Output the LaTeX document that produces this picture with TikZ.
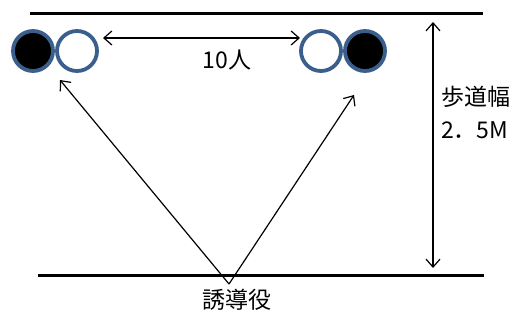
\documentclass[tikz,border=0pt]{standalone}
\usepackage{fontspec}
\setmainfont{Noto Sans CJK JP}
\usetikzlibrary{arrows.meta}
\definecolor{ringblue}{HTML}{3B5F8C}
\begin{document}
\begin{tikzpicture}[x=1pt,y=-1pt,
  person/.style={circle,draw=ringblue,line width=3.8pt,minimum size=40pt,inner sep=0pt},
  thick line/.style={line width=3pt},
  arr/.style={line width=1.2pt,{Straight Barb[length=8pt,width=14pt]}-{Straight Barb[length=8pt,width=14pt]}},
  arr1/.style={line width=1.2pt,-{Straight Barb[length=8pt,width=14pt]}},
  lbl/.style={font=\fontsize{23pt}{26pt}\selectfont,inner sep=0pt}]
\useasboundingbox (0,0) rectangle (530,320);
\fill[white] (0,0) rectangle (530,320);
\coordinate (t1) at (30,14); \coordinate (t2) at (483,14);
\coordinate (b1) at (38,276); \coordinate (b2) at (484,276);
\draw[thick line] (t1) -- (t2);
\draw[thick line] (b1) -- (b2);
\node[person,fill=black] (l1) at (33,51) {};
\node[person,fill=white] (l2) at (77,51) {};
\node[person,fill=white] (r1) at (321,51) {};
\node[person,fill=black] (r2) at (365,51) {};
\coordinate (h1) at (103,38); \coordinate (h2) at (300,38);
\draw[arr] (h1) -- (h2);
\node[lbl] (ten) at (227,60) {10人};
\coordinate (apex) at (229,284);
\coordinate (lt) at (60,80);
\coordinate (rt) at (354,95);
\draw[arr1] (apex) -- (lt);
\draw[arr1] (apex) -- (rt);
\coordinate (v1) at (433,22); \coordinate (v2) at (433,268);
\draw[arr] (v1) -- (v2);
\node[lbl,anchor=west] (w1) at (441,97) {歩道幅};
\node[lbl,anchor=west] (w2) at (441,130) {2．5M};
\node[lbl] (guide) at (237,300) {誘導役};
\end{tikzpicture}
\end{document}
